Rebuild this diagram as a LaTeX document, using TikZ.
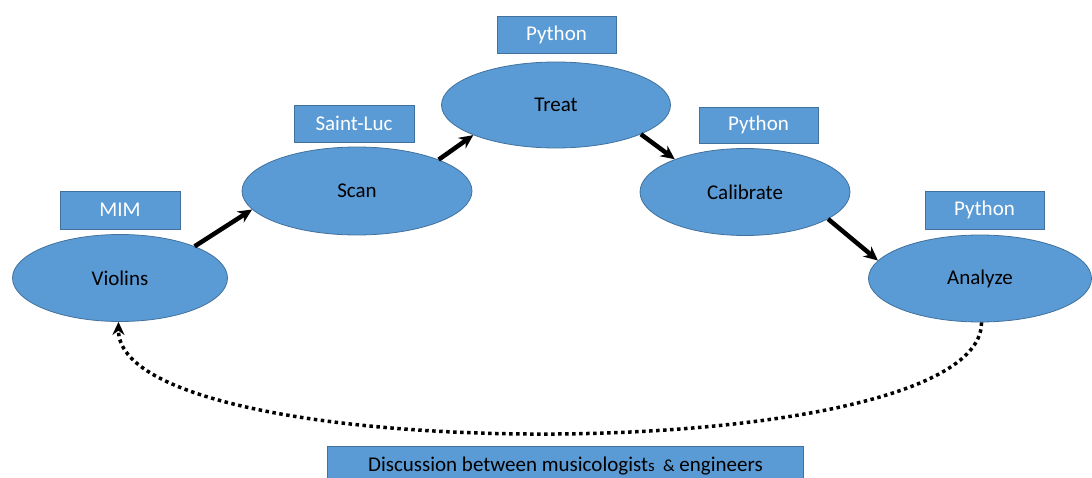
\documentclass[tikz,border=0pt]{standalone}
\usepackage{fontspec}
\setmainfont{Carlito}
\usetikzlibrary{shapes.geometric,arrows.meta}
\definecolor{boxblue}{HTML}{5B9BD5}
\definecolor{boxedge}{HTML}{41719C}
\tikzset{
  stage/.style={ellipse, fill=boxblue, draw=boxedge, line width=0.8pt, inner sep=0pt, text=black, font=\fontsize{21}{24}\selectfont},
  tag/.style={rectangle, fill=boxblue, draw=boxedge, line width=0.8pt, inner sep=0pt, text=white, font=\fontsize{21}{24}\selectfont},
  flow/.style={line width=4.5pt, -{Stealth[length=14pt,width=13pt]}},
  loop/.style={line width=3.5pt, dash pattern=on 3.5pt off 3.5pt, -{Stealth[length=13pt,width=12pt]}}
}
\begin{document}
\begin{tikzpicture}[x=1pt,y=-1pt]
\useasboundingbox (0,0) rectangle (1092,478);
\node[stage, minimum width=215pt, minimum height=87pt] (violins) at (120,278) {Violins};
\node[stage, minimum width=230pt, minimum height=88pt] (scan) at (357,191) {Scan};
\node[stage, minimum width=229pt, minimum height=86pt] (treat) at (556,105) {Treat};
\node[stage, minimum width=210pt, minimum height=87pt] (calib) at (745,192) {Calibrate};
\node[stage, minimum width=223pt, minimum height=87pt] (analyze) at (980,278.5) {Analyze};
\node[tag, minimum width=120pt, minimum height=38pt] (tmim) at (120,210) {MIM};
\node[tag, minimum width=120pt, minimum height=37pt] (tscan) at (354,123.5) {Saint-Luc};
\node[tag, minimum width=119pt, minimum height=37pt] (ttreat) at (556.5,34.5) {Python};
\node[tag, minimum width=119pt, minimum height=36pt] (tcalib) at (758.5,125) {Python};
\node[tag, minimum width=119pt, minimum height=38pt] (tanalyze) at (984.5,210) {Python};
\node[tag, text=black, minimum width=476pt, minimum height=40pt, anchor=north west] (disc) at (327,446) {Discussion between musicologist{\fontsize{17}{19}\selectfont s}\, {\fontsize{17}{19}\selectfont\&} engineers};
\draw[flow] (violins.23) -- (scan.190);
\draw[flow] (scan.21) -- (treat.200);
\draw[flow] (treat.341) -- (calib.155);
\draw[flow] (calib.342) -- (analyze.170);
\draw[loop] (analyze.272) .. controls (982,470) and (118,470) .. (violins.268);
\end{tikzpicture}
\end{document}
